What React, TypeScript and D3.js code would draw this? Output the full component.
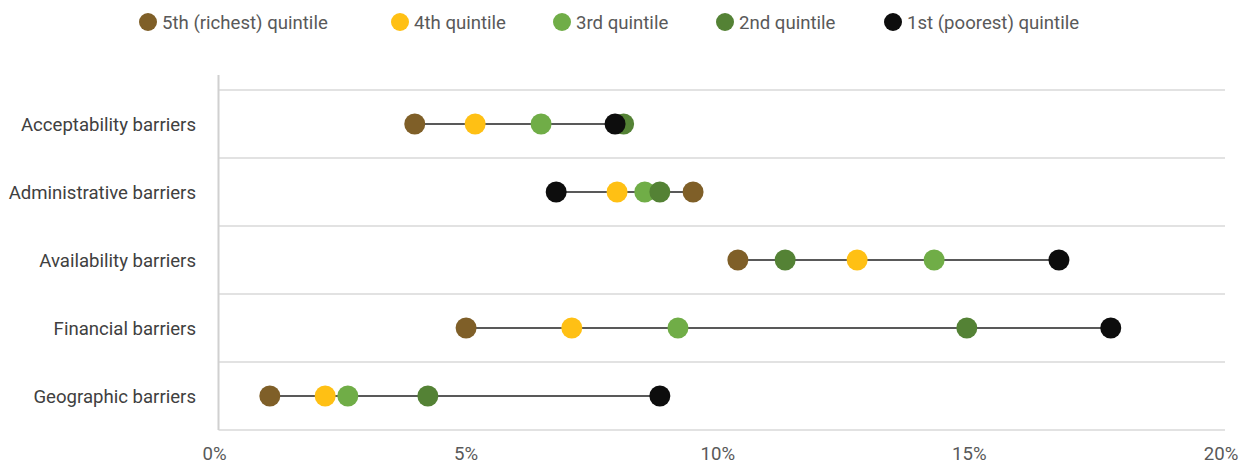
import React from "react";
import * as d3 from "d3";

const categories = [
  "Acceptability barriers",
  "Administrative barriers",
  "Availability barriers",
  "Financial barriers",
  "Geographic barriers",
];

const seriesNames = [
  "5th (richest) quintile",
  "4th quintile",
  "3rd quintile",
  "2nd quintile",
  "1st (poorest) quintile",
];

const seriesColors = ["#7F5F28", "#FFC014", "#70AD47", "#548235", "#0D0D0D"];

// Share of population (%) per barrier, one array per quintile, in category order
const richest5th = [3.9, 9.43, 10.32, 4.92, 1.02];
const quintile4th = [5.1, 7.92, 12.69, 7.02, 2.12];
const quintile3rd = [6.41, 8.47, 14.22, 9.13, 2.57];
const quintile2nd = [8.05, 8.77, 11.26, 14.87, 4.16];
const poorest1st = [7.88, 6.71, 16.7, 17.73, 8.77];

const seriesValues = [richest5th, quintile4th, quintile3rd, quintile2nd, poorest1st];

const xTicks = [0, 5, 10, 15, 20];

const W = 1239;
const H = 461;
const plot = { left: 218.5, right: 1225, top: 90, bottom: 430 };
const legendX = [148, 400, 562, 725, 893];
const FONT = 18.6;

export default function App() {
  const x = d3.scaleLinear().domain([0, 20]).range([plot.left, plot.right]);
  const y = d3
    .scaleBand<string>()
    .domain(categories)
    .range([plot.top, plot.bottom])
    .padding(0);
  const gridYs = [...categories.map((c) => y(c) as number), plot.bottom];

  return (
    <svg
      width={W}
      height={H}
      style={{ position: "absolute", left: 0, top: 0, fontFamily: "Roboto, sans-serif" }}
    >
      <rect width={W} height={H} fill="#fff" />
      {/* legend */}
      {seriesNames.map((name, i) => (
        <g key={name}>
          <circle cx={legendX[i]} cy={22} r={9} fill={seriesColors[i]} />
          <text x={legendX[i] + 14} y={22} dy="0.35em" fontSize={FONT} fill="#595959">
            {name}
          </text>
        </g>
      ))}
      {/* horizontal gridlines */}
      {gridYs.map((gy, i) => (
        <line
          key={i}
          x1={plot.left}
          x2={plot.right}
          y1={gy}
          y2={gy}
          stroke="#d9d9d9"
          strokeWidth={1.5}
        />
      ))}
      {/* vertical axis line */}
      <line x1={plot.left} x2={plot.left} y1={75} y2={plot.bottom} stroke="#d0d0d0" strokeWidth={2} />
      {/* category labels */}
      {categories.map((c) => (
        <text
          key={c}
          x={196}
          y={(y(c) as number) + y.bandwidth() / 2}
          dy="0.35em"
          textAnchor="end"
          fontSize={FONT}
          fill="#404040"
        >
          {c}
        </text>
      ))}
      {/* x tick labels */}
      {xTicks.map((t) => (
        <text key={t} x={x(t) - 4} y={453} dy="0.35em" textAnchor="middle" fontSize={FONT} fill="#595959">
          {t}%
        </text>
      ))}
      {/* range lines */}
      {categories.map((c, ci) => {
        const vals = seriesValues.map((s) => s[ci]);
        const cy = (y(c) as number) + y.bandwidth() / 2;
        return (
          <line
            key={c}
            x1={x(d3.min(vals) as number)}
            x2={x(d3.max(vals) as number)}
            y1={cy}
            y2={cy}
            stroke="#595959"
            strokeWidth={2}
          />
        );
      })}
      {/* dots */}
      {seriesValues.map((s, si) =>
        s.map((v, ci) => (
          <circle
            key={`${si}-${ci}`}
            cx={x(v)}
            cy={(y(categories[ci]) as number) + y.bandwidth() / 2}
            r={10.5}
            fill={seriesColors[si]}
          />
        ))
      )}
    </svg>
  );
}
